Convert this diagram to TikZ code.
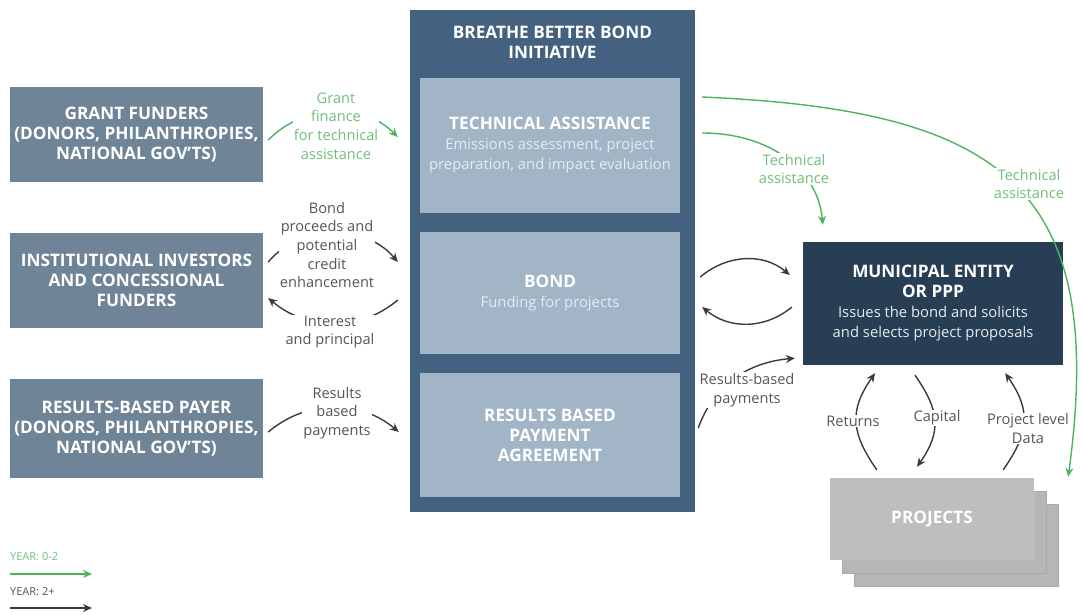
\documentclass[tikz,border=0pt]{standalone}
\usepackage{fontspec}
\setmainfont{Open Sans}
\usetikzlibrary{arrows.meta}
\definecolor{slate}{HTML}{6F8496}
\definecolor{bbbblue}{HTML}{44617F}
\definecolor{innerc}{HTML}{A1B5C6}
\definecolor{navy}{HTML}{283E55}
\definecolor{projgray}{HTML}{BEBEBE}
\definecolor{projback}{HTML}{B6B6B6}
\definecolor{projedge}{HTML}{A8A8A8}
\definecolor{grn}{HTML}{4DB35C}
\definecolor{grntxt}{HTML}{6FBF7C}
\definecolor{ink}{HTML}{3A3A3A}
\definecolor{note}{HTML}{555555}
\definecolor{subtxt}{HTML}{E6ECF1}
\newcommand{\subfont}{\fontsize{14.8}{18.5}\selectfont\mdseries\color{subtxt}}
\tikzset{
  boxbase/.style={rectangle, inner sep=0pt, align=center, text=white,
    font=\fontsize{17.2}{20}\selectfont\bfseries},
  leftbox/.style={boxbase, fill=slate, minimum width=253pt},
  innerbox/.style={boxbase, fill=innerc, minimum width=260pt},
  projbox/.style={rectangle, minimum width=204pt, minimum height=82pt, inner sep=0pt},
  arr/.style={-{Stealth[length=9pt,width=8pt]}, line width=1.4pt, draw=ink},
  garr/.style={arr, draw=grn},
  lab/.style={fill=white, inner sep=1pt, align=center, text=note,
    font=\fontsize{14.6}{18.6}\selectfont},
  glab/.style={lab, text=grntxt},
  legtext/.style={anchor=west, inner sep=0pt, font=\fontsize{11}{12}\selectfont},
}
\begin{document}
\begin{tikzpicture}[x=1pt,y=-1pt]
\useasboundingbox (0,0) rectangle (1083,614);
% left boxes
\node[leftbox, minimum height=95pt] (grant) at (136.5,134.5) {GRANT FUNDERS\\(DONORS, PHILANTHROPIES,\\NATIONAL GOV'TS)};
\node[leftbox, minimum height=95pt] (inst) at (136.5,280.5) {INSTITUTIONAL INVESTORS\\AND CONCESSIONAL\\FUNDERS};
\node[leftbox, minimum height=99pt] (rbp) at (136.5,428.5) {RESULTS-BASED PAYER\\(DONORS, PHILANTHROPIES,\\NATIONAL GOV'TS)};
% central initiative
\node[rectangle, fill=bbbblue, minimum width=285pt, minimum height=502pt, inner sep=0pt] (bbb) at (552.5,261) {};
\node[boxbase] (bbbtitle) at (552.5,42.5) {BREATHE BETTER BOND\\INITIATIVE};
\node[innerbox, minimum height=135pt] (ta) at (550,145.5) {TECHNICAL ASSISTANCE\\{\subfont Emissions assessment, project}\\{\subfont preparation, and impact evaluation}};
\node[innerbox, minimum height=122pt] (bond) at (550,293) {BOND\\{\subfont Funding for projects}};
\node[innerbox, minimum height=124pt] (rbpa) at (550,435) {RESULTS BASED\\PAYMENT\\AGREEMENT};
% municipal entity
\node[boxbase, fill=navy, minimum width=260pt, minimum height=123pt] (muni) at (933,303.5) {MUNICIPAL ENTITY\\OR PPP\\{\subfont Issues the bond and solicits}\\{\subfont and selects project proposals}};
% projects stack
\node[projbox, fill=projback, draw=projedge, line width=0.6pt] (proj3) at (956,545) {};
\node[projbox, fill=projback, draw=projedge, line width=0.6pt] (proj2) at (944,532) {};
\node[projbox, fill=projgray, boxbase, minimum width=204pt, minimum height=82pt] (proj1) at (932,519) {PROJECTS};
% left connectors
\draw[garr] ([xshift=5pt,yshift=-5.5pt]grant.east) to[out=45,in=135] ([xshift=-22pt,yshift=8.5pt]ta.west);
\node[glab] (lgrant) at (336,126) {Grant\\finance\\for technical\\assistance};
\draw[arr] ([xshift=5pt,yshift=18.5pt]inst.east) to[out=50,in=130] ([xshift=-22pt,yshift=31pt]bond.west);
\node[lab] (lbondp) at (327,245) {Bond\\proceeds and\\potential\\credit\\enhancement};
\draw[arr] ([xshift=-22pt,yshift=-7pt]bond.west) to[out=-140,in=-40] ([xshift=5pt,yshift=-17.5pt]inst.east);
\node[lab] (linter) at (330,332) {Interest\\and principal};
\draw[arr] ([xshift=5pt,yshift=-3.5pt]rbp.east) to[out=40,in=140] ([xshift=-21pt,yshift=3pt]rbpa.west);
\node[lab] (lrbp) at (337,413) {Results\\based\\payments};
% right connectors
\draw[garr] ([xshift=22pt,yshift=48.5pt]ta.east) .. controls (1000,110) and (1108,185) .. ([xshift=34pt,yshift=1pt]proj1.north east);
\node[glab] (lta2) at (1029,184) {Technical\\assistance};
\draw[garr] ([xshift=22pt,yshift=12.5pt]ta.east) .. controls (770,133) and (818,170) .. ([xshift=20pt,yshift=17pt]muni.north west);
\node[glab] (lta1) at (794,169) {Technical\\assistance};
\draw[arr] ([xshift=20pt,yshift=16pt]bond.east) to[out=40,in=140] ([xshift=-13pt,yshift=28.5pt]muni.west);
\draw[arr] ([xshift=-11pt,yshift=-3.5pt]muni.west) to[out=-140,in=-40] ([xshift=22pt,yshift=-14pt]bond.east);
\draw[arr] ([xshift=18pt,yshift=7pt]rbpa.east) to[out=70,in=185] ([xshift=-8pt,yshift=7pt]muni.south west);
\node[lab] (lrbp2) at (747,390) {Results-based\\payments};
\draw[arr] ([xshift=47pt,yshift=8pt]proj1.north west) to[out=125,in=-125,looseness=1.2] ([xshift=-58pt,yshift=-8pt]muni.south);
\node[lab] (lret) at (853,421) {Returns};
\draw[arr] ([xshift=-18pt,yshift=-10pt]muni.south) to[out=-55,in=55,looseness=1.2] ([xshift=-15pt,yshift=11pt]proj1.north);
\node[lab] (lcap) at (937,418) {Capital};
\draw[arr] ([xshift=-31pt,yshift=8pt]proj1.north east) to[out=55,in=-55,looseness=1.2] ([xshift=-58pt,yshift=-8pt]muni.south east);
\node[lab] (ldata) at (1028,428.5) {Project level\\Data};
% legend
\node[legtext, text=grntxt] (leg1) at (10,557) {YEAR: 0-2};
\coordinate (l1a) at (10,574);
\coordinate (l1b) at (92,574);
\draw[garr] (l1a) -- (l1b);
\node[legtext, text=note] (leg2) at (10,592) {YEAR: 2+};
\coordinate (l2a) at (10,608);
\coordinate (l2b) at (92,608);
\draw[arr] (l2a) -- (l2b);
\end{tikzpicture}
\end{document}
